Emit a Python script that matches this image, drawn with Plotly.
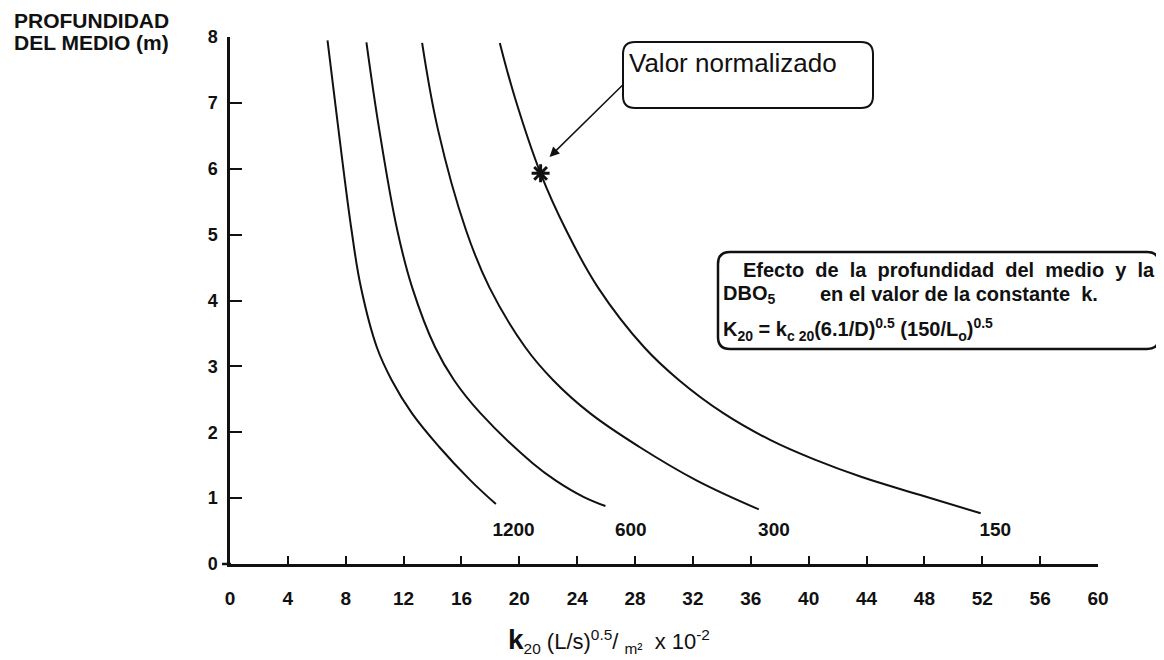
import plotly.graph_objects as go

# ---------------- data ----------------
k_1200 = [6.74, 7.50, 8.40, 9.05, 10.15, 11.18, 12.57, 14.45, 16.62, 18.38]
d_1200 = [7.95, 6.59, 5.07, 4.20, 3.29, 2.79, 2.29, 1.78, 1.27, 0.91]

k_600 = [9.43, 10.32, 11.56, 12.59, 14.18, 15.49, 17.31, 20.92, 22.50, 24.43, 25.95]
d_600 = [7.92, 6.59, 5.07, 4.20, 3.29, 2.79, 2.29, 1.53, 1.27, 1.02, 0.88]

k_300 = [13.28, 14.38, 16.31, 17.93, 20.41, 22.34, 24.88, 28.28, 32.24, 36.55]
d_300 = [7.91, 6.59, 5.07, 4.20, 3.29, 2.79, 2.29, 1.78, 1.27, 0.83]

k_150 = [18.65, 19.68, 21.47, 23.23, 25.43, 28.63, 31.04, 34.10, 37.37, 40.47, 43.67, 47.66, 51.89]
d_150 = [7.91, 7.09, 5.93, 5.07, 4.20, 3.29, 2.79, 2.29, 1.88, 1.58, 1.32, 1.05, 0.77]

normal_k = [21.47]
normal_d = [5.93]

curve_labels = ["1200", "600", "300", "150"]
label_k = [19.6, 27.7, 37.6, 52.9]
label_d = [0.49, 0.49, 0.49, 0.49]

x_ticks = list(range(0, 61, 4))
y_ticks = list(range(0, 9))

FONT = "Liberation Sans, Arial, sans-serif"
INK = "#111111"

# ---------------- geometry (page body has an 8px margin) ----------------
OFF = 8
W, H = 1156, 652
L, R, T, B = 222, 66, 29, 96
PW, PH = W - L - R, H - T - B


def px_x(px):
    return (px - OFF - L) / PW


def px_y(py):
    return (H - B - (py - OFF)) / PH


def rounded_rect(x0, y0, x1, y1, r=12):
    rx, ry = r / PW, r / PH
    X0, X1 = px_x(x0), px_x(x1)
    Y0, Y1 = px_y(y1), px_y(y0)
    return (f"M {X0+rx},{Y1} L {X1-rx},{Y1} Q {X1},{Y1} {X1},{Y1-ry} "
            f"L {X1},{Y0+ry} Q {X1},{Y0} {X1-rx},{Y0} L {X0+rx},{Y0} "
            f"Q {X0},{Y0} {X0},{Y0+ry} L {X0},{Y1-ry} Q {X0},{Y1} {X0+rx},{Y1} Z")


# ---------------- figure ----------------
fig = go.Figure()
for kx, dy in [(k_1200, d_1200), (k_600, d_600), (k_300, d_300), (k_150, d_150)]:
    fig.add_trace(go.Scatter(x=kx, y=dy, mode="lines",
                             line=dict(color=INK, width=2, shape="spline", smoothing=1.1),
                             showlegend=False, hoverinfo="skip"))

fig.add_trace(go.Scatter(x=normal_k, y=normal_d, mode="markers",
                         marker=dict(symbol="asterisk-open", size=15, color=INK,
                                     line=dict(color=INK, width=3)),
                         showlegend=False, hoverinfo="skip"))

fig.add_trace(go.Scatter(x=label_k, y=label_d, mode="text", text=curve_labels,
                         textfont=dict(family=FONT, size=19, color=INK, weight="bold"),
                         showlegend=False, hoverinfo="skip"))

fig.update_xaxes(range=[0, 60], tickmode="array", tickvals=x_ticks,
                 ticks="inside", ticklen=8, tickwidth=2, tickcolor=INK,
                 showline=True, linecolor=INK, linewidth=2.5,
                 showgrid=False, zeroline=False, ticklabelstandoff=15,
                 tickfont=dict(family=FONT, size=19, color=INK, weight="bold"))
fig.update_yaxes(range=[0, 8], tickmode="array", tickvals=y_ticks,
                 ticks="inside", ticklen=12, tickwidth=2, tickcolor=INK,
                 showline=True, linecolor=INK, linewidth=2.5,
                 showgrid=False, zeroline=False, ticklabelstandoff=6,
                 tickfont=dict(family=FONT, size=18, color=INK, weight="bold"))

shapes = [
    dict(type="path", xref="paper", yref="paper", path=rounded_rect(623, 42, 873, 108),
         line=dict(color=INK, width=2), fillcolor="white"),
    dict(type="path", xref="paper", yref="paper", path=rounded_rect(718, 252, 1159, 349),
         line=dict(color=INK, width=2.5), fillcolor="white"),
    dict(type="line", xref="paper", yref="paper", x0=px_x(222), x1=px_x(231),
         y0=px_y(564), y1=px_y(564), line=dict(color=INK, width=2.5)),
]
fig.update_layout(shapes=shapes)

nb = "\u00a0"
ann = []
ann.append(dict(x=22.09, y=6.18, xref="x", yref="y", ax=27.32, ay=7.31, axref="x", ayref="y",
                text="", showarrow=True, arrowhead=2, arrowsize=1.3, arrowwidth=1.5,
                arrowcolor=INK, standoff=0))
ann.append(dict(x=px_x(627), y=px_y(46), xref="paper", yref="paper", xanchor="left", yanchor="top",
                text="Valor normalizado", showarrow=False,
                font=dict(family=FONT, size=26, color=INK)))
line1 = (" " + nb).join(["Efecto", "de", "la", "profundidad", "del", "medio", "y", "la"])
ann.append(dict(x=px_x(1157), y=px_y(270), xref="paper", yref="paper", xanchor="right",
                yanchor="middle", text=f"<b>{line1}</b>", showarrow=False,
                font=dict(family=FONT, size=20, color=INK)))
ann.append(dict(x=px_x(721), y=px_y(294), xref="paper", yref="paper", xanchor="left",
                yanchor="middle", text="<b>DBO<sub>5</sub></b>", showarrow=False,
                font=dict(family=FONT, size=20, color=INK)))
line2 = "en el valor de la constante" + nb + " k."
ann.append(dict(x=px_x(818), y=px_y(294), xref="paper", yref="paper", xanchor="left",
                yanchor="middle", text=f"<b>{line2}</b>",
                showarrow=False, font=dict(family=FONT, size=20, color=INK)))
ann.append(dict(x=px_x(721), y=px_y(329), xref="paper", yref="paper", xanchor="left",
                yanchor="middle",
                text="<b>K<sub>20</sub> = k<sub>c 20</sub>(6.1/D)<sup>0.5</sup> (150/L<sub>o</sub>)<sup>0.5</sup></b>",
                showarrow=False, font=dict(family=FONT, size=20, color=INK)))
ann.append(dict(x=px_x(12), y=px_y(20), xref="paper", yref="paper", xanchor="left",
                yanchor="middle", text="<b>PROFUNDIDAD</b>", showarrow=False,
                font=dict(family=FONT, size=21, color=INK)))
ann.append(dict(x=px_x(12), y=px_y(42), xref="paper", yref="paper", xanchor="left",
                yanchor="middle", text="<b>DEL MEDIO (m)</b>", showarrow=False,
                font=dict(family=FONT, size=21, color=INK)))
ann.append(dict(x=px_x(506), y=px_y(640), xref="paper", yref="paper", xanchor="left",
                yanchor="middle",
                text=("<span style='font-size:28px'><b>k</b></span><sub>20</sub> (L/s)<sup>0.5</sup>/"
                      + nb + "<sub>m²</sub>" + nb + " x 10<sup>-2</sup>"),
                showarrow=False, font=dict(family=FONT, size=22, color=INK)))
fig.update_layout(annotations=ann)

fig.update_layout(width=W, height=H, margin=dict(l=L, r=R, t=T, b=B),
                  paper_bgcolor="white", plot_bgcolor="white",
                  font=dict(family=FONT, color=INK))

fig.write_html("out.html")
